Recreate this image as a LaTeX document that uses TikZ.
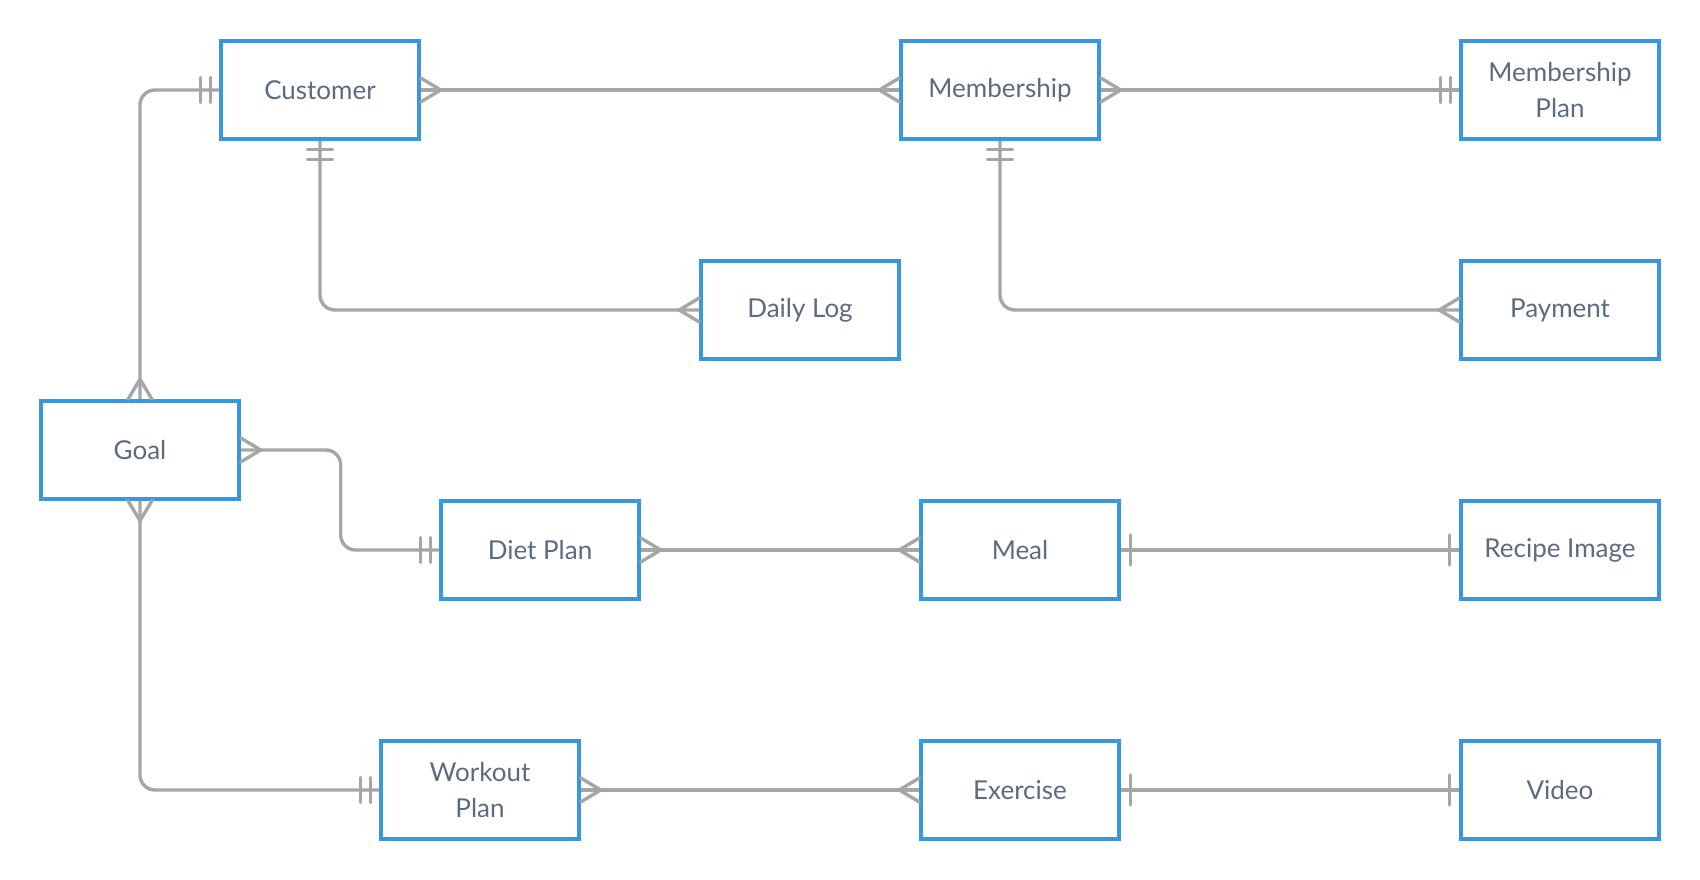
\documentclass[tikz,border=0pt]{standalone}
\usepackage{fontspec}
\setmainfont{Lato}
\usepackage{tikz}
\usetikzlibrary{backgrounds}
\definecolor{boxBlue}{RGB}{58,150,221}
\definecolor{lineGray}{RGB}{166,166,166}
\definecolor{textSlate}{RGB}{92,108,128}

\begin{document}
\begin{tikzpicture}[x=1pt,y=1pt,
  entity/.style={rectangle,draw=boxBlue,line width=3.4pt,fill=white,
                 minimum width=198pt,minimum height=98pt,align=center,
                 text=textSlate,font=\fontsize{26}{36}\selectfont},
  conn/.style={draw=lineGray,line width=3.4pt,rounded corners=15pt},
  endmark/.style={draw=lineGray,line width=3.4pt,line cap=round},
  crowmany/.pic={\path[endmark] (0,12) -- (20,0) -- (0,-12);},
  crowone/.pic={\path[endmark] (10,15) -- (10,-15);},
  crowonlyone/.pic={\path[endmark] (9,12.5) -- (9,-12.5) (19,12.5) -- (19,-12.5);}
]
  \useasboundingbox (0,0) rectangle (1700,880);
  % entities
  \node[entity](cust) at (320,790){Customer};
  \node[entity](memb) at (1000,790){Membership};
  \node[entity](mplan) at (1560,790){Membership\\Plan};
  \node[entity](dlog) at (800,570){Daily Log};
  \node[entity](pay) at (1560,570){Payment};
  \node[entity](goal) at (140,430){Goal};
  \node[entity](diet) at (540,330){Diet Plan};
  \node[entity](meal) at (1020,330){Meal};
  \node[entity](recipe) at (1560,330){Recipe Image};
  \node[entity](wplan) at (480,90){Workout\\Plan};
  \node[entity](exer) at (1020,90){Exercise};
  \node[entity](video) at (1560,90){Video};
  % relations
  \begin{scope}[on background layer]
    \draw[conn](goal.north) |- (cust.west);
    \draw[conn](cust.east) -- (memb.west);
    \draw[conn](memb.east) -- (mplan.west);
    \draw[conn](cust.south) |- (dlog.west);
    \draw[conn](memb.south) |- (pay.west);
    \draw[conn](goal.east) -- ([xshift=100pt]goal.east) |- (diet.west);
    \draw[conn](goal.south) |- (wplan.west);
    \draw[conn](diet.east) -- (meal.west);
    \draw[conn](meal.east) -- (recipe.west);
    \draw[conn](wplan.east) -- (exer.west);
    \draw[conn](exer.east) -- (video.west);
  \end{scope}
  % cardinality marks
  \pic[rotate=90] at (goal.north){crowmany};
  \pic[rotate=180] at (cust.west){crowonlyone};
  \pic at (cust.east){crowmany};
  \pic[rotate=180] at (memb.west){crowmany};
  \pic at (memb.east){crowmany};
  \pic[rotate=180] at (mplan.west){crowonlyone};
  \pic[rotate=-90] at (cust.south){crowonlyone};
  \pic[rotate=180] at (dlog.west){crowmany};
  \pic[rotate=-90] at (memb.south){crowonlyone};
  \pic[rotate=180] at (pay.west){crowmany};
  \pic at (goal.east){crowmany};
  \pic[rotate=180] at (diet.west){crowonlyone};
  \pic[rotate=-90] at (goal.south){crowmany};
  \pic[rotate=180] at (wplan.west){crowonlyone};
  \pic at (diet.east){crowmany};
  \pic[rotate=180] at (meal.west){crowmany};
  \pic at (meal.east){crowone};
  \pic[rotate=180] at (recipe.west){crowone};
  \pic at (wplan.east){crowmany};
  \pic[rotate=180] at (exer.west){crowmany};
  \pic at (exer.east){crowone};
  \pic[rotate=180] at (video.west){crowone};
\end{tikzpicture}
\end{document}
